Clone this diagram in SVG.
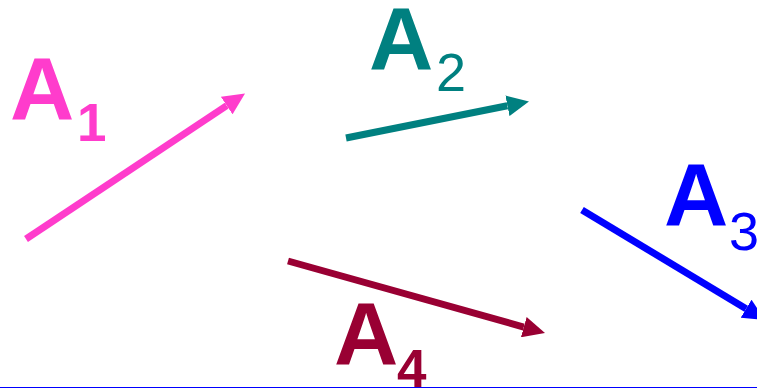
<svg xmlns="http://www.w3.org/2000/svg" width="757" height="389" viewBox="0 0 757 389">
<style>
.big{font-family:"Liberation Sans",Arial,sans-serif;font-weight:bold;font-size:89px}
.sub{font-family:"Liberation Sans",Arial,sans-serif;font-weight:bold;font-size:53px}
.subr{font-family:"Liberation Sans",Arial,sans-serif;font-weight:normal;font-size:54px}
.ln{stroke-width:7;fill:none;stroke-linecap:butt}
</style>
<defs>
<marker id="m1" markerUnits="userSpaceOnUse" markerWidth="22" markerHeight="21" viewBox="0 0 22 21" refX="0" refY="10.5" orient="auto"><path d="M0,0 L22,10.5 L0,21 z" fill="#ff3ccc"/></marker>
<marker id="m2" markerUnits="userSpaceOnUse" markerWidth="22" markerHeight="21" viewBox="0 0 22 21" refX="0" refY="10.5" orient="auto"><path d="M0,0 L22,10.5 L0,21 z" fill="#008080"/></marker>
<marker id="m3" markerUnits="userSpaceOnUse" markerWidth="22" markerHeight="21" viewBox="0 0 22 21" refX="0" refY="10.5" orient="auto"><path d="M0,0 L22,10.5 L0,21 z" fill="#0000ff"/></marker>
<marker id="m4" markerUnits="userSpaceOnUse" markerWidth="22" markerHeight="21" viewBox="0 0 22 21" refX="0" refY="10.5" orient="auto"><path d="M0,0 L22,10.5 L0,21 z" fill="#990033"/></marker>
</defs>
<rect width="757" height="389" fill="#ffffff"/>
<g id="connectors">
<line class="ln" x1="26" y1="239" x2="226.7" y2="105.6" stroke="#ff3ccc" marker-end="url(#m1)"/>
<line class="ln" x1="346" y1="138" x2="507.4" y2="105.8" stroke="#008080" marker-end="url(#m2)"/>
<line class="ln" x1="582" y1="210" x2="746.1" y2="308.7" stroke="#0000ff" marker-end="url(#m3)"/>
<line class="ln" x1="288" y1="261" x2="523.8" y2="327.1" stroke="#990033" marker-end="url(#m4)"/>
</g>
<g id="A1" fill="#ff3ccc"><text class="big" x="10" y="120">A</text><text class="sub" x="77" y="141">1</text></g>
<g id="A2" fill="#008080"><text class="big" x="369" y="70">A</text><text class="subr" x="436" y="91">2</text></g>
<g id="A3" fill="#0000ff"><text class="big" x="664" y="226">A</text><text class="subr" x="729" y="250">3</text></g>
<g id="A4" fill="#990033"><text class="big" x="334" y="365">A</text><text class="sub" x="397" y="387">4</text></g>
<line x1="0" y1="387.5" x2="757" y2="387.5" stroke="#0000ff" stroke-width="1"/>
</svg>
